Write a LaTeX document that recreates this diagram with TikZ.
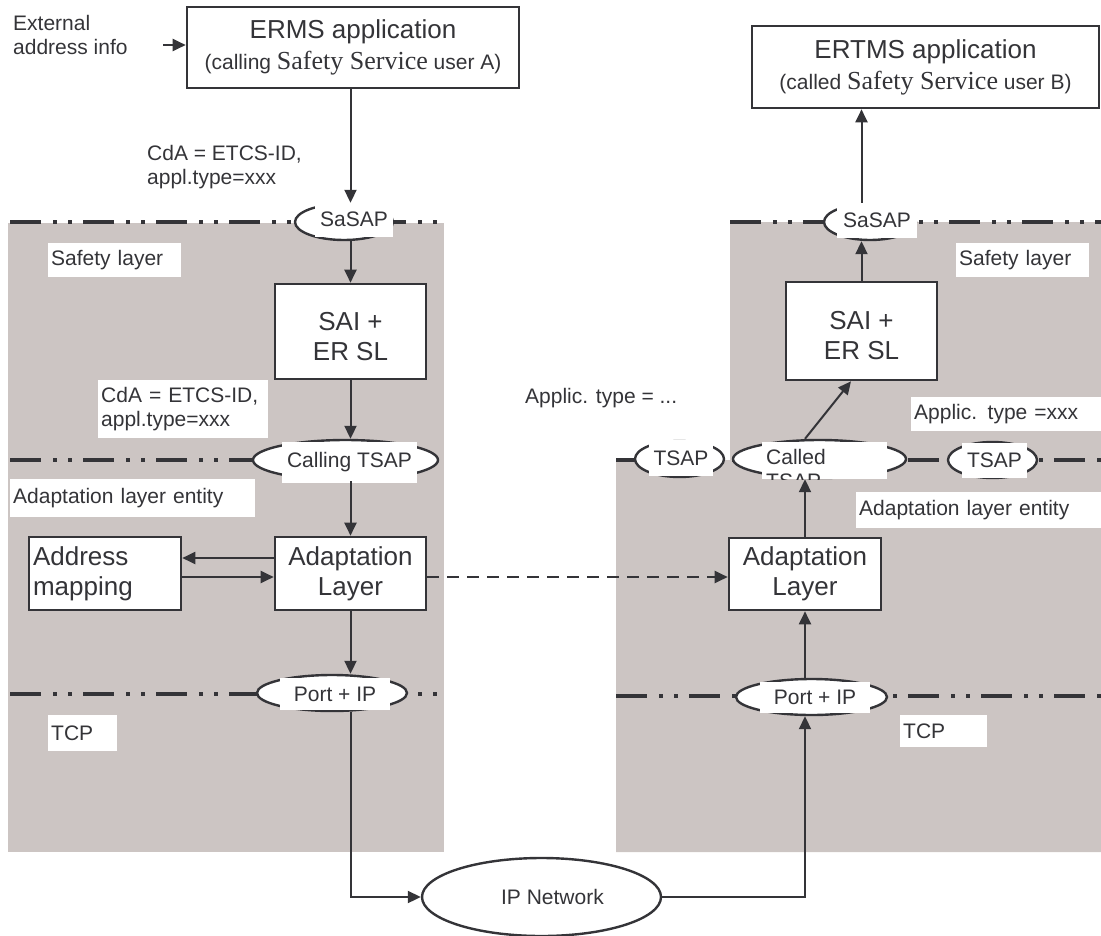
\documentclass[tikz,border=0pt]{standalone}
\usepackage{fontspec}
\setmainfont{Liberation Sans}
\newfontfamily\svcfont{Liberation Serif}
\usetikzlibrary{arrows.meta,shapes.geometric}
\definecolor{lyrgrey}{RGB}{204,197,195}
\definecolor{inkgrey}{RGB}{52,52,56}

\begin{document}
\begin{tikzpicture}[x=1pt,y=-1pt,
  every node/.style={text=inkgrey, font=\fontsize{21}{24.5}\selectfont},
  box/.style={draw=inkgrey, line width=2.6pt, fill=white, inner sep=0pt, align=center},
  bigbox/.style={box, font=\fontsize{26}{30}\selectfont},
  sap/.style={draw=inkgrey, line width=2.4pt, fill=white, ellipse, inner sep=0pt},
  saplbl/.style={fill=white, inner sep=0pt},
  tag/.style={fill=white, anchor=north west, inner xsep=3pt, inner ysep=0pt, align=left},
  arr/.style={draw=inkgrey, line width=2pt, -{Triangle[length=13pt,width=12pt]}},
  layerline/.style={draw=inkgrey, line width=4.3pt, dash pattern=on 31pt off 12pt on 4pt off 11pt on 4pt off 11pt}]
  \useasboundingbox (0,0) rectangle (1101,935);

  %--- Layer backgrounds ---
  \fill[lyrgrey] (8,223) rectangle (444,852);
  \fill[lyrgrey] (730,222) -- (1101,222) -- (1101,852) -- (616,852) -- (616,460) -- (730,460) -- cycle;

  % Layer boundaries
  \draw[layerline] (10,222) -- (444,222);
  \draw[layerline] (730,222) -- (1101,222);
  \draw[layerline] (10,460) -- (300,460);
  \draw[layerline] (616,460) -- (1101,460);
  \draw[layerline] (10,694) -- (444,694);
  \draw[layerline] (616,696) -- (1101,696);

  %--- Applications ---
  \node[font=\fontsize{21}{31}\selectfont, box, minimum width=332pt, minimum height=81pt] (erms) at (353,47.5)
    {{\fontsize{26}{31}\selectfont ERMS application}\\(calling {\svcfont\fontsize{26}{31}\selectfont Safety Service} user A)};
  \node[font=\fontsize{21}{31}\selectfont, box, minimum width=347pt, minimum height=82pt] (ertms) at (925.5,67)
    {{\fontsize{26}{31}\selectfont ERTMS application}\\(called {\svcfont\fontsize{26}{31}\selectfont Safety Service} user B)};
  \node[anchor=north west, inner sep=0pt, align=left] (extinfo) at (13,15) {External\\address info};
  \coordinate (extin) at (163,45);

  %--- Service access points ---
  \node[sap, minimum width=98pt, minimum height=36pt] (sasapL) at (344,222) {};
  \node[saplbl, minimum width=78pt, minimum height=35pt] (sasapLtxt) at (354,219.5) {SaSAP};
  \node[sap, minimum width=92pt, minimum height=36pt] (sasapR) at (870,222) {};
  \node[saplbl, minimum width=80pt, minimum height=36pt] (sasapRtxt) at (877,220) {SaSAP};

  \node[sap, minimum width=185pt, minimum height=40pt] (tsapCall) at (345.5,460) {};
  \node[saplbl, minimum width=135pt, minimum height=41pt] (tsapCalltxt) at (349.5,462.5) {Calling TSAP};
  \node[sap, minimum width=89pt, minimum height=36pt] (tsapA) at (679.5,459) {};
  \node[saplbl, minimum width=64pt, minimum height=36pt] (tsapAtxt) at (681,458) {TSAP};
  \node[sap, minimum width=173pt, minimum height=38pt] (tsapCalled) at (819.5,459) {};
  \fill[white] (762,442) rectangle (887,479);
  \begin{scope}
    \clip (762,442) rectangle (887,479);
    \node[anchor=north west, inner sep=0pt, align=left] (tsapCalledtxt) at (766,449) {Called\\TSAP};
  \end{scope}
  \node[sap, minimum width=89pt, minimum height=36pt] (tsapB) at (992.5,460) {};
  \node[saplbl, minimum width=65pt, minimum height=35pt] (tsapBtxt) at (994.5,460.5) {TSAP};

  \node[sap, minimum width=150pt, minimum height=36pt] (portL) at (332,693) {};
  \node[saplbl, minimum width=110pt, minimum height=32pt] (portLtxt) at (335,694) {Port + IP};
  \node[sap, minimum width=151pt, minimum height=36pt] (portR) at (811.5,697) {};
  \node[saplbl, minimum width=110pt, minimum height=31pt] (portRtxt) at (815,697.5) {Port + IP};

  %--- Entities ---
  \node[bigbox, minimum width=151pt, minimum height=95pt] (saiL) at (350.5,331.5) {\rule{0pt}{28pt}SAI +\\ER SL};
  \node[bigbox, minimum width=151pt, minimum height=98pt] (saiR) at (861.5,331) {\rule{0pt}{28pt}SAI +\\ER SL};
  \node[bigbox, minimum width=152pt, minimum height=73pt, text width=144pt, align=left] (amap) at (105,573.5) {Address\\mapping};
  \node[bigbox, minimum width=151pt, minimum height=73pt] (alL) at (350.5,573.5) {Adaptation\\Layer};
  \node[bigbox, minimum width=152pt, minimum height=72pt] (alR) at (805,574) {Adaptation\\Layer};
  \node[sap, minimum width=239pt, minimum height=78pt] (ipnet) at (541.5,897) {\hspace*{22pt}IP Network};

  %--- Layer labels ---
  \node[tag, text width=127pt, minimum height=34pt] (safL) at (48,243) {Safety layer};
  \node[tag, text width=127pt, minimum height=34pt] (safR) at (956,243) {Safety layer};
  \node[tag, text width=164pt, minimum height=58pt] (cdaL) at (98,380) {CdA = ETCS-ID,\\appl.type=xxx};
  \node[tag, text width=239pt, minimum height=38pt] (adaL) at (10,479) {Adaptation layer entity};
  \node[tag, text width=239pt, minimum height=36pt] (adaR) at (856,492) {Adaptation layer entity};
  \node[tag, text width=184pt, minimum height=34pt] (appR) at (911,397) {Applic. type =xxx};
  \node[tag, text width=63pt, minimum height=36pt] (tcpL) at (48,715) {TCP};
  \node[tag, text width=81pt, minimum height=32pt] (tcpR) at (900,715) {TCP};
  \node[anchor=north west, inner sep=0pt, align=left] (cdaTop) at (147,145) {CdA = ETCS-ID,\\appl.type=xxx};
  \node[anchor=north west, inner sep=0pt] (appMid) at (525,388) {Applic. type = ...};

  % Calling side, top to bottom
  \draw[arr] (extin) -- (extin -| erms.west);
  \draw[arr] (saiL.north |- erms.south) -- (saiL.north |- sasapL.north);
  \draw[arr] (saiL.north |- sasapL.south) -- (saiL.north);
  \draw[arr] (saiL.south) -- (saiL.south |- tsapCall.north);
  \draw[arr] (alL.north |- tsapCall.south) -- (alL.north);
  \draw[arr] ([yshift=15.5pt]alL.west) -- ([yshift=15.5pt]alL.west -| amap.east);
  \draw[arr] ([yshift=-3.5pt]amap.east) -- ([yshift=-3.5pt]amap.east -| alL.west);
  \draw[arr] (alL.south) -- (alL.south |- portL.north);
  \draw[arr] (alL.south |- portL.south) |- (ipnet.west);

  % Peer link
  \draw[arr, dash pattern=on 12pt off 8pt] ([yshift=-3.5pt]alL.east) -- ([yshift=-3.5pt]alL.east -| alR.west);

  % Called side, bottom to top
  \draw[arr] (ipnet.east) -| (alR.south |- portR.south);
  \draw[arr] (alR.south |- portR.north) -- (alR.south);
  \draw[arr] (alR.north) -- (alR.north |- tsapCalled.south);
  \draw[arr] (alR.north |- tsapCalled.north) -- ([xshift=-10.5pt]saiR.south);
  \draw[arr] (saiR.north) -- (saiR.north |- sasapR.south);
  \draw[arr] (saiR.north |- sasapR.north) -- (saiR.north |- ertms.south);
\end{tikzpicture}
\end{document}
